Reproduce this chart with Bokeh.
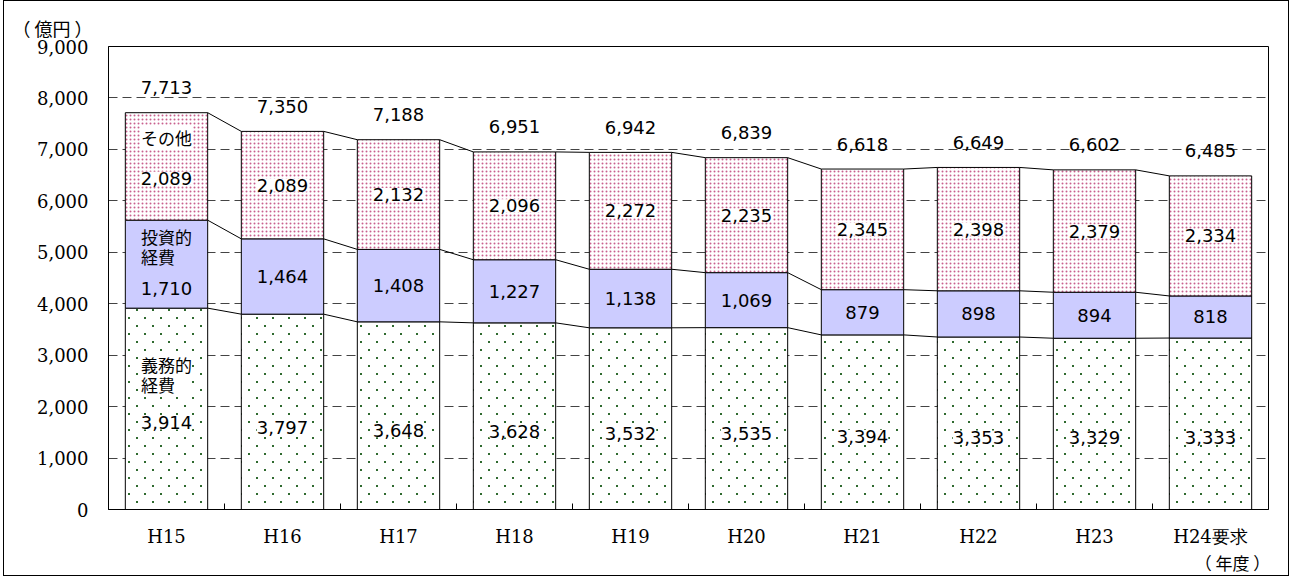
import base64
from bokeh.plotting import figure
from bokeh.models import (ColumnDataSource, LabelSet, Range1d, FixedTicker, NumeralTickFormatter,
                          LinearAxis, ImageURLTexture)
from bokeh.core.properties import value
from bokeh.embed import file_html
from bokeh.resources import INLINE

# ---------------- data ----------------
years = ["H15", "H16", "H17", "H18", "H19", "H20", "H21", "H22", "H23", "H24要求"]
mandatory = [3914, 3797, 3648, 3628, 3532, 3535, 3394, 3353, 3329, 3333]   # 義務的経費
investment = [1710, 1464, 1408, 1227, 1138, 1069, 879, 898, 894, 818]      # 投資的経費
other = [2089, 2089, 2132, 2096, 2272, 2235, 2345, 2398, 2379, 2334]       # その他
totals = [7713, 7350, 7188, 6951, 6942, 6839, 6618, 6649, 6602, 6485]
series_names = ["義務的\n経費", "投資的\n経費", "その他"]
y_ticks = [0, 1000, 2000, 3000, 4000, 5000, 6000, 7000, 8000, 9000]
unit_label = "（ 億円 ）"
year_label = "（ 年度 ）"

# ---------------- style ----------------
W = 0.71
NUM_FONT = "DejaVu Sans"
SERIF = "DejaVu Serif"
CJK = "Noto Sans CJK JP"
GREEN = "#2f6a2f"
PINK = "#c8608e"
PURPLE = "#ccccff"

# sparse staggered green dot tile (16 x 16 px)
svg_tile = ("<svg xmlns='http://www.w3.org/2000/svg' width='16' height='16'>"
            f"<rect x='4' y='4' width='2' height='2' fill='{GREEN}'/>"
            f"<rect x='12' y='12' width='2' height='2' fill='{GREEN}'/></svg>")
green_tex = ImageURLTexture(url="data:image/svg+xml;base64," +
                            base64.b64encode(svg_tile.encode()).decode())

n = len(years)
xs = list(range(n))
b1 = [0] * n
t1 = mandatory
b2 = t1
t2 = [a + b for a, b in zip(t1, investment)]
b3 = t2
t3 = [a + b for a, b in zip(t2, other)]

p = figure(width=1286, height=576, output_backend="svg", toolbar_location=None,
           x_range=Range1d(-0.5, n - 0.5), y_range=Range1d(0, 9000),
           min_border_left=104, min_border_right=22, min_border_top=45, min_border_bottom=68)
p.styles = {"border": "1px solid black", "margin": "0 0 0 3px"}
p.background_fill_color = "white"
p.border_fill_color = "white"
p.outline_line_color = "black"
p.outline_line_width = 1

# unit title (top-left)
p.title.text = unit_label
p.title.align = "left"
p.title.offset = -96
p.title.standoff = 11
p.title.text_font = CJK
p.title.text_font_size = "18px"
p.title.text_font_style = "normal"
p.title.text_color = "black"

# grid / y axis
p.xgrid.visible = False
p.ygrid.grid_line_color = "#444444"
p.ygrid.grid_line_dash = "9 5"
p.ygrid.grid_line_width = 1
p.yaxis.ticker = FixedTicker(ticks=y_ticks)
p.yaxis.formatter = NumeralTickFormatter(format="0,0")
p.yaxis.major_tick_in = 0
p.yaxis.major_tick_out = 0
p.yaxis.minor_tick_line_color = None
p.yaxis.axis_line_color = "black"
p.yaxis.major_label_text_font = SERIF
p.yaxis.major_label_text_font_size = "18px"
p.yaxis.major_label_text_color = "black"
p.yaxis.major_label_standoff = 20

# x axis
p.xaxis.ticker = FixedTicker(ticks=xs, minor_ticks=[i + 0.5 for i in range(n - 1)])
p.xaxis.major_label_overrides = {i: y for i, y in enumerate(years)}
p.xaxis.major_tick_in = 0
p.xaxis.major_tick_out = 0
p.xaxis.minor_tick_in = 6
p.xaxis.minor_tick_out = 0
p.xaxis.minor_tick_line_color = "black"
p.xaxis.axis_line_color = "black"
p.xaxis.major_label_text_font = SERIF
p.xaxis.major_label_text_font_size = "18px"
p.xaxis.major_label_text_color = "black"
p.xaxis.major_label_standoff = 16

# secondary bottom axis carrying the "（年度）" note at the right end
yr_tick = n - 0.81
yr_axis = LinearAxis(ticker=FixedTicker(ticks=[yr_tick]),
                     major_label_overrides={yr_tick: year_label},
                     axis_line_color=None, major_tick_line_color=None, minor_tick_line_color=None,
                     major_tick_in=0, major_tick_out=0, minor_tick_in=0, minor_tick_out=0,
                     major_label_standoff=0, major_label_text_font=CJK,
                     major_label_text_font_size="17px", major_label_text_color="black")
p.add_layout(yr_axis, "below")

# bars
p.vbar(x=xs, width=W, bottom=b1, top=t1, fill_color="white", hatch_pattern=value("gdots"),
       hatch_extra={"gdots": green_tex}, hatch_scale=16, hatch_color=GREEN,
       line_color="black", line_width=1)
p.vbar(x=xs, width=W, bottom=b2, top=t2, fill_color=PURPLE, line_color="black", line_width=1)
p.vbar(x=xs, width=W, bottom=b3, top=t3, fill_color="white", hatch_pattern="dot",
       hatch_scale=4, hatch_color=PINK, line_color="black", line_width=1)

# connector lines between bars
for lvl in (t1, t2, t3):
    p.segment(x0=[i + W / 2 for i in range(n - 1)], y0=lvl[:-1],
              x1=[i + 1 - W / 2 for i in range(n - 1)], y1=lvl[1:],
              line_color="black", line_width=1)

has_pad = "padding" in LabelSet.properties()

def labels(x, y, text, bg, font=NUM_FONT, size="18px", y_offset=0, line_height=1.2):
    src = ColumnDataSource(dict(x=x, y=y, text=text))
    kw = dict(x="x", y="y", text="text", source=src, text_align="center",
              text_baseline="middle", text_font=value(font), text_font_size=value(size),
              text_color="black", y_offset=y_offset, text_line_height=line_height)
    if bg:
        kw["background_fill_color"] = "white"
        if has_pad:
            kw["padding"] = 6
    p.add_layout(LabelSet(**kw))

fmt = lambda v: f"{v:,}"
first_val_frac = [0.43, 0.22, 0.39]
val_frac = [0.42, 0.5, 0.5]
name_frac = [0.67, 0.70, 0.77]
segs = [(b1, t1, mandatory, True), (b2, t2, investment, False), (b3, t3, other, True)]
for s, (bb, tt, vals, bg) in enumerate(segs):
    ys = [bb[i] + (first_val_frac[s] if i == 0 else val_frac[s]) * vals[i] for i in range(n)]
    labels(xs, ys, [fmt(v) for v in vals], bg)
    labels([0], [bb[0] + name_frac[s] * vals[0]], [series_names[s]], bg, font=CJK, size="17px",
           line_height=0.8)

# totals
labels(xs, totals, [fmt(v) for v in totals], False, y_offset=25)

open("out.html", "w").write(file_html(p, INLINE))
